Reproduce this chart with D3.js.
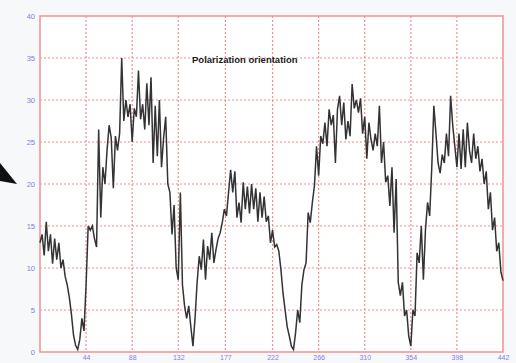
<!DOCTYPE html>
<html>
<head>
<meta charset="utf-8">
<script src="https://cdn.jsdelivr.net/npm/d3@7"></script>
<style>
  html, body { margin: 0; padding: 0; background: #f7f8fa; }
  svg { display: block; }
</style>
</head>
<body>
<svg id="chart" width="516" height="363"></svg>
<script>
// Signal sampled every 2 units along the horizontal axis (0 .. 442)
const sampleStep = 2;
const orientation = [
  13, 14, 11.5, 15.5, 12, 14, 10.5, 13.5, 11, 13,
  10, 11, 9, 8, 6.5, 4.5, 2, 0.8, 0.3, 1.5,
  4, 2.5, 8, 15, 14.5, 15, 13.5, 12.5, 26.5, 16,
  22, 20, 24, 27, 25.5, 19.5, 25.7, 24, 26, 35,
  27.5, 30, 28, 29.5, 25, 29, 28, 33.5, 27.7, 29.5,
  26.5, 32, 27, 32.7, 22.5, 29.3, 23.3, 30, 22, 25.5,
  28, 20, 19, 14, 17.5, 10, 8.6, 19, 8, 5.5,
  4, 5.5, 3, 0.7, 4, 8.3, 11.4, 9.8, 13.4, 8.6,
  12.6, 11, 14.2, 10.6, 12.2, 13.5, 14.2, 15.4, 17, 16.2,
  19, 21.7, 19, 21.5, 16, 17.8, 15.4, 20.2, 17, 19.7,
  16.5, 20, 17, 19.5, 15.5, 19, 16, 18.5, 15.5, 16.2,
  13, 14.5, 12.5, 12.8, 12, 9.8, 7, 5, 3, 1.9,
  0.7, 0.3, 2.3, 5, 3.5, 8, 9.8, 10.6, 16.6, 15.4,
  17.8, 19.8, 24.5, 21, 25.7, 24.8, 27.3, 24.5, 28.9, 27,
  28.2, 22.5, 28.9, 30.5, 27, 29.7, 25.3, 27.5, 25.7, 31.9,
  29, 30, 28.5, 30.2, 26, 28, 23, 27.3, 25.3, 24,
  26, 24.5, 29.3, 22.5, 25, 20.2, 21, 17.4, 22, 14.2,
  20.6, 8.3, 6.7, 8.3, 4.3, 5, 1.9, 0.7, 5, 4.3,
  11.8, 10.6, 15, 8.6, 14.6, 17.8, 16.2, 22, 29.3, 26,
  22.5, 21.3, 23.5, 22.5, 26, 23.3, 30.5, 27, 24.5, 22,
  26, 21.8, 26.5, 22, 27.3, 24, 22.5, 26, 23, 24.5,
  21.5, 23, 20, 21.5, 17, 19, 14.5, 16, 12, 13,
  9.5, 8.5
];
const xTickLabels = [44, 88, 132, 177, 222, 266, 310, 354, 398, 442];
const yTickValues = [0, 5, 10, 15, 20, 25, 30, 35, 40];
const chartTitle = "Polarization orientation";

const svg = d3.select("#chart");
const W = 516, H = 363;
const margin = { left: 40, right: 13, top: 16, bottom: 11 };
const x0 = margin.left, x1 = W - margin.right;
const y0 = H - margin.bottom, y1 = margin.top;

const x = d3.scaleLinear().domain([0, 442]).range([x0, x1]);
const y = d3.scaleLinear().domain([0, 40]).range([y0, y1]);

// page background
svg.append("rect").attr("width", W).attr("height", H).attr("fill", "#f7f8fa");

// pointer wedge at the left edge
svg.append("path")
  .attr("d", "M0,163 L17,184 L0,181 Z")
  .attr("fill", "#111");

// plot area
svg.append("rect")
  .attr("x", x0).attr("y", y1)
  .attr("width", x1 - x0).attr("height", y0 - y1)
  .attr("fill", "#ffffff");

const gridColor = "#ef9090";

// horizontal grid
svg.append("g")
  .selectAll("line")
  .data(yTickValues.filter(v => v > 0 && v < 40))
  .join("line")
  .attr("x1", x0).attr("x2", x1)
  .attr("y1", d => y(d)).attr("y2", d => y(d))
  .attr("stroke", gridColor)
  .attr("stroke-width", 1.2)
  .attr("stroke-dasharray", "2,2");

// vertical grid
svg.append("g")
  .selectAll("line")
  .data(xTickLabels.slice(0, -1))
  .join("line")
  .attr("x1", d => x(d)).attr("x2", d => x(d))
  .attr("y1", y1).attr("y2", y0)
  .attr("stroke", gridColor)
  .attr("stroke-width", 1.2)
  .attr("stroke-dasharray", "2,2");

// frame
svg.append("rect")
  .attr("x", x0).attr("y", y1)
  .attr("width", x1 - x0).attr("height", y0 - y1)
  .attr("fill", "none")
  .attr("stroke", "#f09898")
  .attr("stroke-width", 1.6);

// axes labels
const axisColor = "#7f7fe6";
const yAxis = d3.axisLeft(y).tickValues(yTickValues).tickSize(0).tickPadding(5);
const gy = svg.append("g").attr("transform", `translate(${x0},0)`).call(yAxis);
gy.select(".domain").remove();
gy.selectAll("text")
  .attr("fill", axisColor)
  .style("font-family", "Liberation Sans, Arial, sans-serif")
  .style("font-size", "7.5px");

const xAxis = d3.axisBottom(x).tickValues(xTickLabels).tickSize(0).tickPadding(3)
  .tickFormat(d3.format("d"));
const gx = svg.append("g").attr("transform", `translate(0,${y0})`).call(xAxis);
gx.select(".domain").remove();
gx.selectAll("text")
  .attr("fill", axisColor)
  .style("font-family", "Liberation Sans, Arial, sans-serif")
  .style("font-size", "7px");

// signal trace
const line = d3.line()
  .x((d, i) => x(i * sampleStep))
  .y(d => y(d));

svg.append("path")
  .datum(orientation)
  .attr("d", line)
  .attr("fill", "none")
  .attr("stroke", "#333333")
  .attr("stroke-width", 1.5)
  .attr("stroke-linejoin", "miter");

// title inside the plot
svg.append("text")
  .attr("x", 192).attr("y", 63)
  .attr("fill", "#1a1a1a")
  .style("font-family", "Liberation Sans, Arial, sans-serif")
  .style("font-weight", "bold")
  .style("font-size", "9.5px")
  .text(chartTitle);
</script>
</body>
</html>
